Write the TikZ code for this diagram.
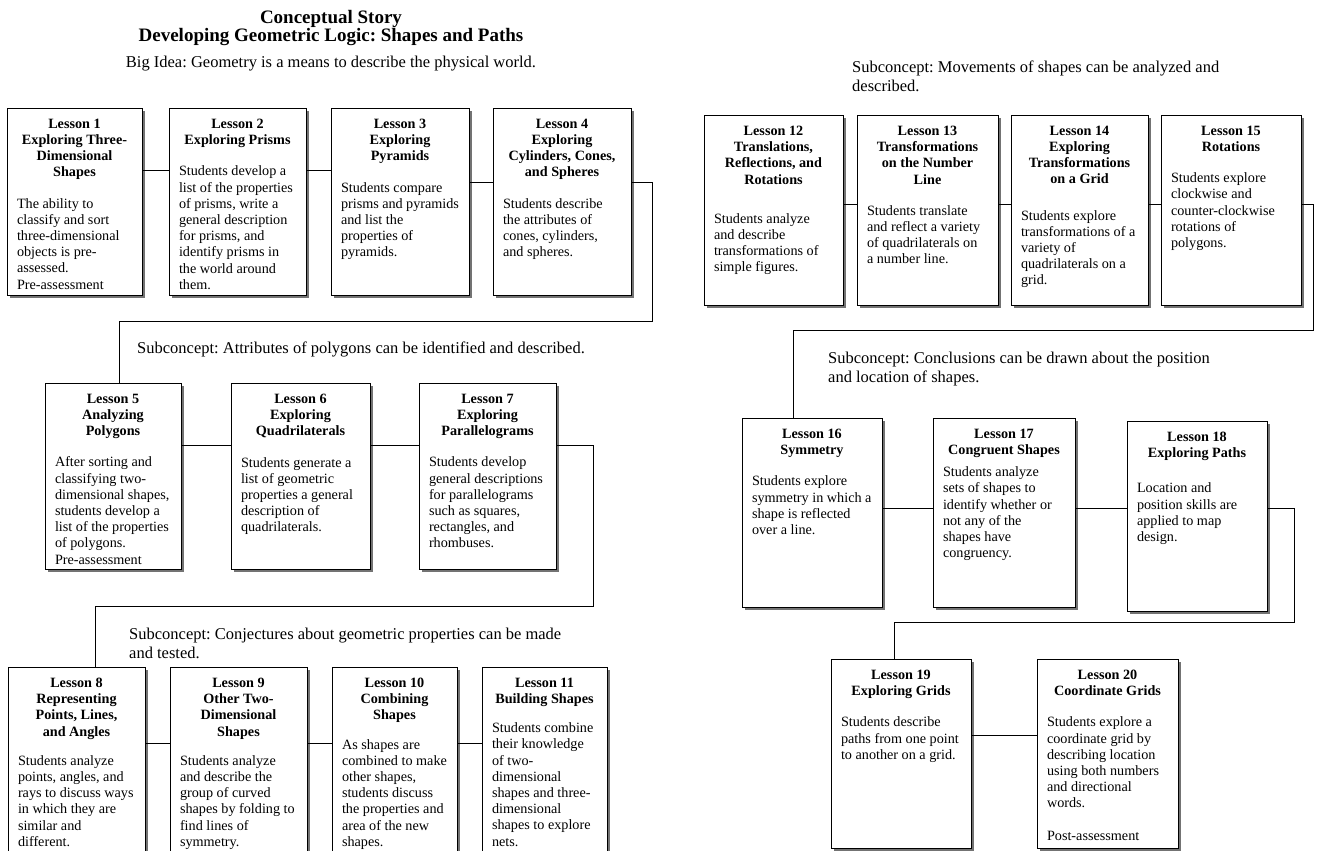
\documentclass[tikz,border=0pt]{standalone}
\usepackage{fontspec}
\setmainfont{Liberation Serif}
\frenchspacing
\usepackage{tikz}
\usetikzlibrary{calc, shadows}
\tikzset{
  lesson/.style = {draw, line width=1pt, fill=white, anchor=north west, inner xsep=10pt, inner ysep=11pt, outer sep=0pt,
    drop shadow={shadow xshift=3pt, shadow yshift=-3pt, fill=black!55, opacity=1}},
  link/.style = {draw, line width=1pt},
  subtext/.style = {anchor=north west, align=left, inner sep=0pt, font=\fontsize{16.5}{19}\selectfont}
}
\newcommand{\lessonbox}[5][15pt]{%
  \parbox[t][\dimexpr#3pt-22pt\relax][t]{\dimexpr#2pt-20pt\relax}{\fontsize{14.2}{16.2}\selectfont
    {\centering\bfseries #4\par}\vspace{#1}\raggedright #5}}

\begin{document}
\begin{tikzpicture}[x=1pt, y=-1pt]
  \clip (0,0) rectangle (1317,851);
  \fill[white] (0,0) rectangle (1317,851);

  \node[align=center, anchor=north, inner sep=0pt, font=\fontsize{19}{18}\selectfont\bfseries] (title) at (331,10)
    {Conceptual Story\\Developing Geometric Logic: Shapes and Paths};
  \node[anchor=north, inner sep=0pt, font=\fontsize{16.5}{19}\selectfont] (idea) at (331,56)
    {Big Idea: Geometry is a means to describe the physical world.};

  \node[lesson] (l1) at (7,108) {\lessonbox{135}{187}{Lesson 1\\Exploring Three-\\Dimensional\\Shapes}
    {The ability to\\classify and sort\\three-dimensional\\objects is pre-\\assessed.\\Pre-assessment}};
  \node[lesson] (l2) at (169,108) {\lessonbox{137}{187}{Lesson 2\\Exploring Prisms}
    {Students develop a\\list of the properties\\of prisms, write a\\general description\\for prisms, and\\identify prisms in\\the world around\\them.}};
  \node[lesson] (l3) at (331,108) {\lessonbox{138}{187}{Lesson 3\\Exploring\\Pyramids}
    {Students compare\\prisms and pyramids\\and list the\\properties of\\pyramids.}};
  \node[lesson] (l4) at (493,108) {\lessonbox{138}{187}{Lesson 4\\Exploring\\Cylinders, Cones,\\and Spheres}
    {Students describe\\the attributes of\\cones, cylinders,\\and spheres.}};

  \node[subtext] (sc2) at (137,342) {Subconcept: Attributes of polygons can be identified and described.};

  \node[lesson] (l5) at (45,383) {\lessonbox{136}{186}{Lesson 5\\Analyzing\\Polygons}
    {After sorting and\\classifying two-\\dimensional shapes,\\students develop a\\list of the properties\\of polygons.\\Pre-assessment}};
  \node[lesson] (l6) at (231,383) {\lessonbox{139}{186}{Lesson 6\\Exploring\\Quadrilaterals}
    {Students generate a\\list of geometric\\properties a general\\description of\\quadrilaterals.}};
  \node[lesson] (l7) at (419,383) {\lessonbox{137}{186}{Lesson 7\\Exploring\\Parallelograms}
    {Students develop\\general descriptions\\for parallelograms\\such as squares,\\rectangles, and\\rhombuses.}};

  \node[subtext] (sc3) at (129,628) {Subconcept: Conjectures about geometric properties can be made\\and tested.};

  \node[lesson] (l8) at (8,667) {\lessonbox[13pt]{137}{215}{Lesson 8\\Representing\\Points, Lines,\\and Angles}
    {Students analyze\\points, angles, and\\rays to discuss ways\\in which they are\\similar and\\different.}};
  \node[lesson] (l9) at (170,667) {\lessonbox[13pt]{137}{215}{Lesson 9\\Other Two-\\Dimensional\\Shapes}
    {Students analyze\\and describe the\\group of curved\\shapes by folding to\\find lines of\\symmetry.}};
  \node[lesson] (l10) at (332,667) {\lessonbox[13pt]{125}{215}{Lesson 10\\Combining\\Shapes}
    {As shapes are\\combined to make\\other shapes,\\students discuss\\the properties and\\area of the new\\shapes.}};
  \node[lesson] (l11) at (482,667) {\lessonbox[13pt]{125}{215}{Lesson 11\\Building Shapes}
    {Students combine\\their knowledge\\of two-\\dimensional\\shapes and three-\\dimensional\\shapes to explore\\nets.}};

  \node[subtext] (sc4) at (852,61) {Subconcept: Movements of shapes can be analyzed and\\described.};

  \node[lesson] (l12) at (704,115) {\lessonbox[23pt]{139}{190}{Lesson 12\\Translations,\\Reflections, and\\Rotations}
    {Students analyze\\and describe\\transformations of\\simple figures.}};
  \node[lesson] (l13) at (857,115) {\lessonbox{141}{190}{Lesson 13\\Transformations\\on the Number\\Line}
    {Students translate\\and reflect a variety\\of quadrilaterals on\\a number line.}};
  \node[lesson] (l14) at (1011,115) {\lessonbox[20pt]{137}{190}{Lesson 14\\Exploring\\Transformations\\on a Grid}
    {Students explore\\transformations of a\\variety of\\quadrilaterals on a\\grid.}};
  \node[lesson] (l15) at (1161,115) {\lessonbox{140}{190}{Lesson 15\\Rotations}
    {Students explore\\clockwise and\\counter-clockwise\\rotations of\\polygons.}};

  \node[subtext] (sc5) at (828,352) {Subconcept: Conclusions can be drawn about the position\\and location of shapes.};

  \node[lesson] (l16) at (742,418) {\lessonbox{140}{189}{Lesson 16\\Symmetry}
    {Students explore\\symmetry in which a\\shape is reflected\\over a line.}};
  \node[lesson] (l17) at (933,418) {\lessonbox[6pt]{142}{189}{Lesson 17\\Congruent Shapes}
    {Students analyze\\sets of shapes to\\identify whether or\\not any of the\\shapes have\\congruency.}};
  \node[lesson] (l18) at (1127,421) {\lessonbox[19pt]{140}{190}{Lesson 18\\Exploring Paths}
    {Location and\\position skills are\\applied to map\\design.}};

  \node[lesson] (l19) at (831,659) {\lessonbox{140}{189}{Lesson 19\\Exploring Grids}
    {Students describe\\paths from one point\\to another on a grid.}};
  \node[lesson] (l20) at (1037,659) {\lessonbox{141}{189}{Lesson 20\\Coordinate Grids}
    {Students explore a\\coordinate grid by\\describing location\\using both numbers\\and directional\\words.\\[16pt]Post-assessment}};

  \draw[link] (l1.east |- 0,170) -- (l2.west |- 0,170);
  \draw[link] (l2.east |- 0,170) -- (l3.west |- 0,170);
  \draw[link] (l3.east |- 0,182) -- (l4.west |- 0,182);
  \draw[link] (l4.east |- 0,182) -| (652,321) -| (l5.north -| 119,0);
  \draw[link] (l5.east |- 0,445) -- (l6.west |- 0,445);
  \draw[link] (l6.east |- 0,445) -- (l7.west |- 0,445);
  \draw[link] (l7.east |- 0,445) -| (593,606) -| (l8.north -| 95,0);
  \draw[link] (l8.east |- 0,743) -- (l9.west |- 0,743);
  \draw[link] (l9.east |- 0,743) -- (l10.west |- 0,743);
  \draw[link] (l10.east |- 0,743) -- (l11.west |- 0,743);
  \draw[link] (l12.east |- 0,204) -- (l13.west |- 0,204);
  \draw[link] (l13.east |- 0,204) -- (l14.west |- 0,204);
  \draw[link] (l14.east |- 0,204) -- (l15.west |- 0,204);
  \draw[link] (l15.east |- 0,204) -| (1313,330) -| (l16.north -| 793,0);
  \draw[link] (l16.east |- 0,508) -- (l17.west |- 0,508);
  \draw[link] (l17.east |- 0,508) -- (l18.west |- 0,508);
  \draw[link] (l18.east |- 0,508) -| (1294,622) -| (l19.north -| 894,0);
  \draw[link] (l19.east |- 0,735) -- (l20.west |- 0,735);
\end{tikzpicture}
\end{document}
